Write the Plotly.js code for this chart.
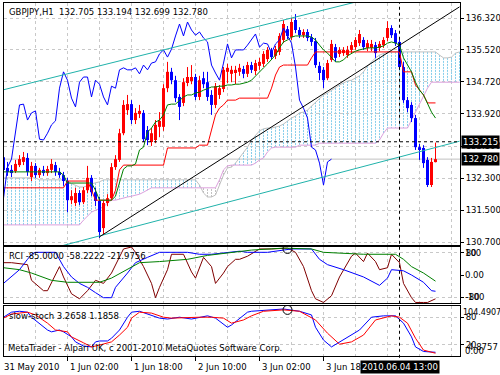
<!DOCTYPE html>
<html><head><meta charset="utf-8">
<script src="https://cdn.plot.ly/plotly-3.0.1.min.js"></script>
<style>html,body{margin:0;padding:0;background:#fff;}#chart{width:500px;height:375px;}</style>
</head><body><div id="chart"></div>
<script>
// ---------- texts & ticks ----------
const symbolTitle = 'GBPJPY,H1\u00a0\u00a0132.705 133.194 132.699 132.780';
const rciTitle = 'RCI -85.0000 -58.2222 -21.9756';
const stochTitle = 'slow-stoch 3.2658 1.1858';
const copyright = 'MetaTrader - Alpari UK, c 2001-2010 MetaQuotes Software Corp.';
const tickBars = [0, 16, 32, 48, 64, 80];
const tickLabels = ['31 May 2010', '1 Jun 02:00', '1 Jun 18:00', '2 Jun 10:00', '3 Jun 02:00', '3 Jun 18:00'];
const gridBars = [0, 8, 16, 24, 32, 40, 48, 56, 64, 72, 80, 88, 96, 104, 112];
const priceTicks = [136.32, 135.52, 134.72, 133.92, 133.10, 132.30, 131.50, 130.70];
const priceTickText = ['136.320', '135.520', '134.720', '133.920', '133.100', '132.300', '131.500', '130.700'];
const crosshairBar = 99;
const crosshairTime = '2010.06.04 13:00';
const crosshairPrice = 133.215;
const bidPrice = 132.780;

// ---------- OHLC (H1 bars) ----------
const open = [132.83,132.56,132.51,132.48,132.63,132.71,132.81,132.33,132.61,132.38,
132.51,132.43,132.51,132.63,132.46,132.38,132.23,131.75,131.68,131.93,
131.70,132.00,132.31,131.95,131.73,131.05,131.68,131.80,132.58,132.76,
133.43,134.01,134.16,133.76,133.91,133.94,133.51,133.21,133.26,133.59,
133.59,134.56,134.97,134.76,134.34,134.19,134.69,134.74,134.84,134.34,
134.81,134.71,134.39,134.14,134.39,134.54,134.97,134.92,134.94,134.97,
135.04,134.92,135.14,134.99,135.12,135.17,135.29,135.49,135.37,135.47,
135.77,136.04,135.84,136.27,136.02,135.89,135.97,135.84,135.74,135.12,
135.02,134.81,135.27,135.59,135.42,135.44,135.39,135.52,135.59,135.69,
135.77,135.57,135.57,135.64,135.57,135.64,135.82,136.07,135.94,135.72,
135.09,134.26,134.14,133.81,133.08,133.06,132.76,132.13,132.705];
const high = [132.93,132.71,132.63,132.76,132.88,132.96,132.93,132.71,132.68,132.56,
132.61,132.61,132.78,132.71,132.56,132.46,132.31,132.00,132.06,132.00,
132.08,132.61,132.38,132.06,131.83,131.75,131.90,132.68,132.88,133.54,
134.26,134.39,134.26,134.06,134.14,134.01,133.61,133.56,133.76,133.96,
134.66,135.22,135.07,134.87,134.41,134.81,135.09,135.14,134.92,134.87,
134.97,134.97,134.51,134.69,134.64,135.09,135.17,135.12,135.12,135.17,
135.12,135.22,135.22,135.27,135.32,135.49,135.59,135.57,135.62,135.94,
136.27,136.12,136.32,136.42,136.09,136.04,136.04,135.92,135.82,135.22,
135.09,135.27,135.77,135.67,135.59,135.59,135.62,135.72,135.84,136.02,
135.84,135.77,135.77,135.72,135.74,135.84,136.24,136.14,136.02,135.79,
135.22,134.34,134.21,133.89,133.16,133.13,132.83,132.81,133.194];
const low = [132.38,132.36,132.33,132.43,132.58,132.63,132.36,132.23,132.31,132.31,
132.36,132.36,132.43,132.36,132.31,132.11,131.45,131.65,131.60,131.63,
131.65,131.93,131.85,131.60,130.80,130.90,131.60,131.75,132.51,132.71,
133.38,133.89,133.66,133.66,133.81,133.21,133.13,133.11,133.18,133.33,
133.49,134.46,134.66,134.21,133.76,134.11,134.61,134.66,134.26,134.26,
134.56,134.24,133.89,134.06,134.29,134.46,134.69,134.71,134.66,134.87,
134.81,134.84,134.94,134.89,135.02,135.09,135.22,135.27,135.29,135.39,
135.69,135.79,135.77,135.94,135.82,135.82,135.74,135.62,135.07,134.76,
134.56,134.76,135.22,135.22,135.34,135.37,135.32,135.44,135.52,135.62,
135.52,135.49,135.49,135.32,135.49,135.57,135.74,135.82,135.62,135.02,
134.19,133.96,133.71,133.01,132.76,132.56,132.08,132.08,132.699];
const close = [132.51,132.46,132.43,132.66,132.78,132.83,132.46,132.61,132.38,132.51,
132.43,132.53,132.66,132.46,132.38,132.23,131.75,131.85,131.93,131.70,
132.00,132.31,131.95,131.73,130.95,131.68,131.80,132.58,132.78,133.43,
134.14,134.16,133.76,133.94,133.99,133.28,133.26,133.43,133.64,133.74,
134.56,134.97,134.76,134.31,134.09,134.71,134.84,134.84,134.34,134.76,
134.66,134.34,134.14,134.61,134.56,135.02,135.07,135.02,135.02,135.07,
134.92,135.14,135.02,135.19,135.22,135.42,135.52,135.34,135.54,135.87,
136.17,135.87,136.22,136.02,135.89,135.97,135.82,135.72,135.14,134.94,
134.76,135.19,135.67,135.32,135.52,135.52,135.52,135.64,135.77,135.92,
135.59,135.69,135.67,135.44,135.67,135.77,136.07,135.89,135.69,135.09,
134.26,134.06,133.81,133.08,133.01,132.68,132.13,132.71,132.78];

// ---------- Ichimoku ----------
const tenkan = [132.46,132.46,132.46,132.46,132.46,132.46,132.46,132.46,132.46,132.46,
132.46,132.46,132.46,132.46,132.46,132.38,132.18,132.18,132.18,132.18,
132.18,132.18,132.18,132.00,131.75,131.75,131.75,131.75,131.85,132.18,
132.53,132.61,132.61,132.66,133.01,133.08,133.46,133.56,133.71,133.76,
133.89,134.14,134.16,134.16,134.26,134.34,134.39,134.39,134.44,134.46,
134.51,134.56,134.59,134.59,134.61,134.61,134.64,134.64,134.66,134.66,
134.69,134.71,134.76,134.87,134.97,135.07,135.17,135.27,135.39,135.57,
135.72,135.77,135.84,135.87,135.87,135.87,135.87,135.84,135.77,135.64,
135.52,135.44,135.32,135.22,135.22,135.27,135.37,135.44,135.49,135.52,
135.54,135.57,135.57,135.57,135.59,135.62,135.69,135.72,135.69,135.64,
135.32,135.14,134.97,134.71,134.51,134.39,134.16,133.96,133.81];
const kijun = [132.06,132.06,132.06,132.06,132.06,132.06,132.06,132.06,132.06,132.06,
132.06,132.06,132.06,132.06,132.06,132.06,132.23,132.23,132.23,132.23,
132.23,132.23,132.00,131.75,131.75,131.75,131.75,131.75,132.00,132.51,
132.63,132.63,132.63,132.63,132.63,132.63,132.63,132.63,132.63,132.63,
132.63,133.06,133.06,133.06,133.06,133.06,133.06,133.06,133.06,133.13,
133.13,133.13,133.51,133.89,134.06,134.14,134.26,134.26,134.26,134.31,
134.31,134.31,134.31,134.31,134.31,134.31,134.31,134.56,134.89,135.09,
135.14,135.14,135.14,135.14,135.14,135.14,135.14,135.32,135.47,135.47,
135.47,135.47,135.47,135.47,135.47,135.47,135.47,135.47,135.47,135.47,
135.47,135.47,135.47,135.47,135.47,135.47,135.47,135.47,135.47,135.47,
134.97,134.97,134.97,134.64,134.51,134.39,134.19,134.19,134.19];
const spanA = [132.31,132.31,132.31,132.31,132.31,132.31,132.31,132.31,132.31,132.26,
132.26,132.26,132.26,132.26,132.26,132.26,132.21,132.16,132.11,132.08,
132.08,132.11,132.16,132.18,132.21,132.26,132.26,132.26,132.26,132.26,
132.26,132.26,132.26,132.26,132.26,132.26,132.26,132.26,132.26,132.26,
132.26,132.26,132.26,132.26,132.26,132.26,132.26,132.26,132.26,132.13,
131.93,131.83,131.83,131.88,132.13,132.38,132.56,132.58,132.68,132.81,
132.96,133.08,133.26,133.38,133.49,133.54,133.56,133.56,133.59,133.61,
133.66,133.74,133.81,133.86,133.94,133.96,134.01,134.11,134.21,134.31,
134.39,134.44,134.51,134.56,134.64,134.69,134.74,134.76,134.81,134.87,
134.97,135.12,135.22,135.32,135.39,135.44,135.47,135.47,135.47,135.47,
135.47,135.47,135.47,135.47,135.47,135.47,135.47,135.47,135.47,135.39,
135.32,135.32,135.34,135.44,135.47];
const spanB = [131.13,131.13,131.13,131.13,131.13,131.13,131.13,131.13,131.13,131.13,
131.13,131.13,131.13,131.13,131.13,131.13,131.13,131.13,131.13,131.13,
131.25,131.35,131.45,131.50,131.55,131.58,131.68,131.75,131.75,131.78,
131.80,131.83,131.85,131.88,131.90,131.95,132.00,132.06,132.06,132.06,
132.06,132.06,132.06,132.06,132.06,132.06,132.06,132.06,132.06,132.06,
132.06,132.06,132.06,132.06,132.26,132.51,132.61,132.63,132.63,132.63,
132.63,132.63,132.63,132.68,132.76,132.81,132.96,133.06,133.08,133.08,
133.08,133.08,133.08,133.08,133.13,133.13,133.13,133.13,133.13,133.18,
133.18,133.18,133.18,133.18,133.18,133.18,133.18,133.18,133.18,133.18,
133.18,133.18,133.18,133.18,133.26,133.43,133.56,133.56,133.56,133.56,
133.56,133.56,133.76,133.96,134.16,134.36,134.56,134.71,134.71,134.71,
134.71,134.71,134.71,134.71,134.71];
const chikouShift = 26;

// ---------- trend objects (anchor bar, anchor price) ----------
const channelUpBars = [0, 90], channelUpPrices = [134.52, 136.77];
const channelLoBars = [0, 114], channelLoPrices = [130.22, 133.23];
const trendBars = [24, 114], trendPrices = [130.83, 136.60];

// ---------- RCI ----------
const rciFastX = [0,2,6,7,10,11,14,15,17,19,21,23,25,27,30,32,33,35,37,38,39,41,42,45,47,48,50,52,53,55,56,58,59,61,64,67,71,73,75,77,78,80,82,84,87,88,90,91,93,94,96,97,99,100,102,103,105,106,108];
const rciFastY = [44,44,37,-19,-56,-56,30,-7,-67,-85,-56,-19,-30,7,93,100,81,30,-30,-81,-44,19,74,74,11,-11,63,30,-30,7,30,56,56,67,93,93,96,81,30,-56,-85,-98,-74,-7,67,78,48,78,48,19,26,74,44,-30,-81,-98,-98,-98,-85];
const rciMidX = [0,2,4,6,7,8,13,15,17,19,21,23,25,27,28,31,33,36,39,46,49,52,56,59,61,66,70,72,77,79,81,85,90,94,96,97,100,102,105,107,108];
const rciMidY = [-30,-7,19,56,74,81,81,30,-7,-30,-44,-63,-81,-81,-44,7,44,63,81,81,74,74,81,85,81,81,89,93,93,56,37,19,-7,-37,-11,19,15,0,-26,-56,-58];
const rciSlowX = [0,4,7,12,16,24,27,31,34,39,46,51,57,62,70,77,80,85,90,98,100,102,105,108];
const rciSlowY = [26,19,7,-19,-26,-26,-11,19,44,48,56,70,81,89,96,93,81,78,74,74,56,30,7,-22];

// ---------- slow stochastic ----------
const stochMainX = [0,2,4,6,7,9,11,12,14,15,17,18,20,22,23,24,26,27,29,31,32,34,37,39,41,44,47,51,53,56,57,59,61,62,67,70,74,77,78,80,82,84,87,89,92,95,98,100,102,103,105,108];
const stochMainY = [80,91,93,91,80,67,52,48,52,48,37,26,17,15,26,28,28,34,52,80,91,93,85,78,76,80,76,83,78,58,63,78,91,93,96,98,93,85,58,30,15,26,41,52,80,83,83,67,37,15,5,3.27];
const stochSigX = [0,2,6,8,11,13,16,17,20,22,24,27,29,31,32,34,37,40,42,46,49,52,55,57,60,62,65,70,74,78,81,84,87,90,93,97,99,101,103,105,108];
const stochSigY = [78,87,91,85,67,52,48,37,24,15,19,26,41,58,78,91,89,80,78,80,80,80,78,67,74,83,93,96,93,74,45,21,26,41,74,83,80,67,34,8,1.19];

// object markers
const markerBar = 71, markerRci = 93, markerStoch = 96;

// ---------- build traces ----------
const hbX=[],hbY=[],hgX=[],hgY=[];
spanA.forEach((a,i)=>{ const b=spanB[i];
  if (a>=b){hbX.push(i,i,null);hbY.push(a,b,null);} else {hgX.push(i,i,null);hgY.push(a,b,null);} });
const axisIdx = spanA.map((_,i)=>i);
const barIdx = close.map((_,i)=>i);
const upWX=[],upWY=[],dnWX=[],dnWY=[],upBX=[],upBY=[],dnBX=[],dnBY=[];
close.forEach((c,i)=>{ const up=c>=open[i];
  (up?upWX:dnWX).push(i,i,null); (up?upWY:dnWY).push(low[i],high[i],null);
  (up?upBX:dnBX).push(i,i,null); (up?upBY:dnBY).push(open[i],c,null); });
const chX=[],chY=[];
close.forEach((c,i)=>{ if(i>=chikouShift){chX.push(i-chikouShift);chY.push(c);} });

const L = (x,y,color,extra)=>Object.assign({type:'scatter',mode:'lines',x:x,y:y,line:{color:color,width:1},hoverinfo:'skip',xaxis:'x',yaxis:'y'},extra||{});
const traces = [
  L(hbX,hbY,'#87CEEB',{line:{color:'#87CEEB',width:1,dash:'2px,1px'}}),
  L(hgX,hgY,'#C0C0C0',{line:{color:'#C0C0C0',width:1,dash:'2px,1px'}}),
  L(axisIdx,spanA,'#C0C0C0'),
  L(axisIdx,spanB,'#DDA0DD'),
  L(upWX,upWY,'#FF0000'),
  L(dnWX,dnWY,'#0000FF'),
  L(upBX,upBY,'#FF0000',{line:{color:'#FF0000',width:3}}),
  L(dnBX,dnBY,'#0000FF',{line:{color:'#0000FF',width:3}}),
  L(barIdx,kijun,'#FF0000'),
  L(barIdx,tenkan,'#008000'),
  L(chX,chY,'#0000FF'),
  L(channelUpBars,channelUpPrices,'#20B2AA'),
  L(channelLoBars,channelLoPrices,'#20B2AA'),
  L(trendBars,trendPrices,'#000000'),
  L(rciFastX,rciFastY,'#800000',{xaxis:'x2',yaxis:'y2'}),
  L(rciMidX,rciMidY,'#0000FF',{xaxis:'x2',yaxis:'y2'}),
  L(rciSlowX,rciSlowY,'#008000',{xaxis:'x2',yaxis:'y2'}),
  {type:'scatter',mode:'markers',x:[markerBar],y:[markerRci],xaxis:'x2',yaxis:'y2',marker:{symbol:'circle-open',size:9,color:'#000',line:{width:1}},hoverinfo:'skip'},
  L(stochMainX,stochMainY,'#0000FF',{xaxis:'x3',yaxis:'y3'}),
  L(stochSigX,stochSigY,'#FF0000',{xaxis:'x3',yaxis:'y3'}),
  {type:'scatter',mode:'markers',x:[markerBar],y:[markerStoch],xaxis:'x3',yaxis:'y3',marker:{symbol:'circle-open',size:9,color:'#000',line:{width:1}},hoverinfo:'skip'}
];

const FONT = 'DejaVu Sans';
const FS = 8.5;
const xRange = [0.125, 114.125];
const gridStyle = {showgrid:true, gridcolor:'#C8C8C8', griddash:'3px,3px', gridwidth:1};
const xBase = (anchor)=>Object.assign({anchor:anchor, range:xRange, tickmode:'array', tickvals:gridBars, showticklabels:false, ticks:'', showline:true, mirror:true, linecolor:'#000', linewidth:1, zeroline:false, fixedrange:true}, gridStyle);
const yBase = (anchor)=>({anchor:anchor, side:'right', showline:true, mirror:true, linecolor:'#000', linewidth:1, zeroline:false, ticks:'outside', ticklen:3, tickcolor:'#000', tickwidth:1, tickfont:{family:FONT,size:FS,color:'#000'}, fixedrange:true});

const x3 = xBase('y3');
x3.tickvals = tickBars; x3.ticks = 'outside'; x3.ticklen = 4; x3.tickcolor = '#000';
x3.minor = {tickvals: gridBars.filter(v=>tickBars.indexOf(v)<0), ticks:'', showgrid:true, gridcolor:'#C8C8C8', griddash:'3px,3px', gridwidth:1};

const ann = [];
const txt = (text, x, y, opts)=>ann.push(Object.assign({text:text, x:x, y:y, xref:'paper', yref:'paper', showarrow:false, xanchor:'left', yanchor:'middle', font:{family:FONT,size:FS,color:'#000'}}, opts||{}));
txt(symbolTitle, 0.0066, 0.9745);
txt(rciTitle, 0.0066, 0.2833);
txt(stochTitle, 0.0066, 0.1133);
txt(copyright, 0.0044, 0.0227);
tickBars.forEach((b,k)=>txt(tickLabels[k], Math.max(b, xRange[0]), -0.031, {xref:'x3', xshift: b < xRange[0] ? -2 : 0}));
// right-scale extra labels
txt('0.00', 1, 0, {yref:'y2', xshift:3});
txt('100', 1, 1, {yref:'y2 domain', yanchor:'top', xshift:3, yshift:1});
txt('-100', 1, 0, {yref:'y2 domain', yanchor:'bottom', xshift:3, yshift:-1});
txt('104.4907', 1, 1, {yref:'y3 domain', yanchor:'top', xshift:1, yshift:0, font:{family:FONT,size:8,color:'#000'}});
txt('-4.8757', 1, 0, {yref:'y3 domain', yanchor:'bottom', xshift:3, yshift:2});
txt('0.00', 1, 0, {yref:'y3 domain', yanchor:'bottom', xshift:3, yshift:-2});
// price boxes & time box
txt(crosshairPrice.toFixed(3), 1, crosshairPrice, {yref:'y', xshift:1, bgcolor:'#000', borderpad:1, font:{family:FONT,size:FS,color:'#fff'}});
txt(bidPrice.toFixed(3), 1, bidPrice, {yref:'y', xshift:1, bgcolor:'#000', borderpad:1, font:{family:FONT,size:FS,color:'#fff'}});
txt(crosshairTime, crosshairBar, -0.031, {xref:'x3', xanchor:'center', bgcolor:'#000', borderpad:1, font:{family:FONT,size:FS,color:'#fff'}});

const layout = {
  width:500, height:375,
  margin:{l:4, r:40, t:3, b:19, pad:0},
  paper_bgcolor:'#fff', plot_bgcolor:'#fff',
  showlegend:false,
  font:{family:FONT, size:FS, color:'#000'},
  xaxis: xBase('y'),
  xaxis2: xBase('y2'),
  xaxis3: x3,
  yaxis: Object.assign(yBase('x'), {domain:[0.3144,1], range:[130.625,136.697], tickmode:'array', tickvals:priceTicks, ticktext:priceTickText}, gridStyle),
  yaxis2: Object.assign(yBase('x2'), {domain:[0.1501,0.3088], range:[-100,100], tickmode:'array', tickvals:[80,-80], ticktext:['80','-80'], minor:{tickvals:[0], ticks:'outside', ticklen:3, tickcolor:'#000', showgrid:false}}, gridStyle),
  yaxis3: Object.assign(yBase('x3'), {domain:[0,0.1416], range:[-4.8757,104.4907], tickmode:'array', tickvals:[80,20], ticktext:['80','20']}, gridStyle),
  shapes:[
    {type:'line', xref:'paper', yref:'y', x0:0, x1:1, y0:bidPrice, y1:bidPrice, line:{color:'#C0C0C0', width:1}, layer:'below'},
    {type:'line', xref:'paper', yref:'y', x0:0, x1:1, y0:crosshairPrice, y1:crosshairPrice, line:{color:'#000', width:1, dash:'3px,3px'}},
    {type:'line', xref:'x', yref:'paper', x0:crosshairBar, x1:crosshairBar, y0:-0.005, y1:1, line:{color:'#000', width:1, dash:'3px,3px'}}
  ],
  annotations: ann
};
Plotly.newPlot('chart', traces, layout, {staticPlot:true, displayModeBar:false});
</script></body></html>
